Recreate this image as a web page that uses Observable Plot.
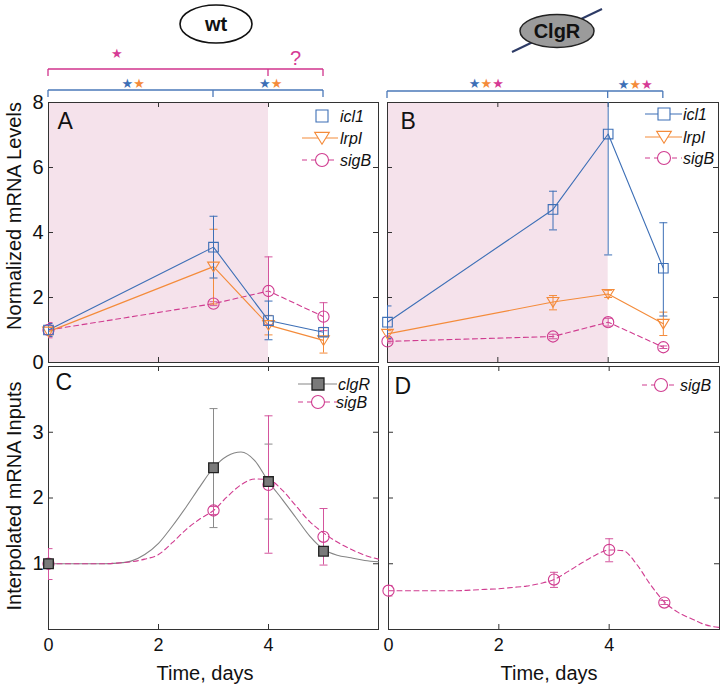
<!DOCTYPE html>
<html><head><meta charset="utf-8">
<script src="https://cdn.jsdelivr.net/npm/d3@7"></script>
<script src="https://cdn.jsdelivr.net/npm/@observablehq/plot@0.6"></script>
<style>
body{margin:0;background:#fff;font-family:"Liberation Sans",Arial,Helvetica,sans-serif;}
#wrap{position:relative;width:720px;height:686px;overflow:hidden;background:#fff;}
</style></head><body><div id="wrap"></div>
<script>
// ---------- data ----------
const days = [0, 3, 4, 5];
const shadeDays = [0, 4];
const xTickDays = [2, 4];
const xLabelDays = [0, 2, 4];
const yTicksTop = [2, 4, 6];
const yLabelsTop = [0, 2, 4, 6, 8];
const yTicksBottom = [1, 2, 3];
const yLabelsBottom = [1, 2, 3];

// Panel A: wild type, measured
const A_icl1 = [1.0, 3.55, 1.29, 0.93];
const A_icl1_lo = [0.8, 2.6, 0.7, 0.8];
const A_icl1_hi = [1.2, 4.5, 1.89, 1.08];
const A_lrpI = [0.95, 2.95, 1.15, 0.68];
const A_lrpI_lo = [0.82, 1.8, 0.85, 0.29];
const A_lrpI_hi = [1.08, 4.1, 1.45, 1.07];
const wt_sigB = [1.0, 1.81, 2.2, 1.41];
const wt_sigB_lo = [0.76, 1.75, 1.16, 0.98];
const wt_sigB_hi = [1.23, 1.87, 3.25, 1.84];

// Panel B: ClgR mutant, measured
const B_icl1 = [1.24, 4.71, 7.03, 2.9];
const B_icl1_lo = [0.74, 4.08, 3.31, 1.43];
const B_icl1_hi = [1.74, 5.27, 10.75, 4.3];
const B_lrpI = [0.88, 1.86, 2.11, 1.19];
const B_lrpI_lo = [0.78, 1.62, 2.0, 0.83];
const B_lrpI_hi = [0.98, 2.06, 2.22, 1.55];
const B_sigB = [0.65, 0.8, 1.24, 0.47];
const B_sigB_lo = [0.6, 0.73, 1.12, 0.43];
const B_sigB_hi = [0.7, 0.87, 1.36, 0.51];

// Panel C: interpolated inputs, wild type
const C_clgR = [1.0, 2.46, 2.25, 1.19];
const C_clgR_lo = [1.0, 1.55, 1.68, 1.14];
const C_clgR_hi = [1.0, 3.36, 2.82, 1.24];

// Panel D: interpolated sigB input, ClgR mutant
const D_sigB = [0.59, 0.76, 1.21, 0.41];
const D_sigB_lo = [0.51, 0.64, 1.03, 0.38];
const D_sigB_hi = [0.67, 0.87, 1.38, 0.44];

// smooth interpolation curves
const fitDays = [0, 0.5, 1, 1.25, 1.5, 1.75, 2, 2.25, 2.5, 2.75, 3, 3.25, 3.5, 3.75, 4, 4.25, 4.5, 4.75, 5, 5.25, 5.5, 5.75, 6];
const C_clgR_fit = [1.0, 1.0, 1.0, 1.01, 1.04, 1.14, 1.31, 1.57, 1.86, 2.17, 2.46, 2.64, 2.70, 2.57, 2.25, 1.98, 1.70, 1.42, 1.22, 1.13, 1.09, 1.05, 1.03];
const C_sigB_fit = [1.0, 1.0, 1.0, 1.01, 1.03, 1.07, 1.14, 1.32, 1.52, 1.68, 1.81, 2.02, 2.2, 2.29, 2.28, 2.12, 1.88, 1.64, 1.47, 1.33, 1.22, 1.13, 1.07];
const D_sigB_fit = [0.59, 0.59, 0.59, 0.59, 0.6, 0.61, 0.62, 0.64, 0.66, 0.7, 0.76, 0.88, 1.01, 1.13, 1.21, 1.2, 0.99, 0.68, 0.42, 0.26, 0.16, 0.07, 0.03];

// ---------- style ----------
const blue = "#3d6fb6", orange = "#f48b3a", magenta = "#d03c90", pinkErr = "#d4559d";
const grayLine = "#858585", grayFill = "#7a7a7a", frameCol = "#333";
const shade = "#f5e2eb";
const FONT = "Liberation Sans, Arial, Helvetica, sans-serif";

const rOf = s => Math.sqrt(s / Math.PI);
const capSym = {draw(c, s) { const r = rOf(s); c.moveTo(-r, 0); c.lineTo(r, 0); }};
const triDown = {draw(c, s) { const r = rOf(s); c.moveTo(-r * 1.05, -r * 0.8); c.lineTo(r * 1.05, -r * 0.8); c.lineTo(0, r * 0.9); c.closePath(); }};
const sqSym = {draw(c, s) { const r = rOf(s); c.moveTo(-r, -r); c.lineTo(r, -r); c.lineTo(r, r); c.lineTo(-r, r); c.closePath(); }};

const idx = d3.range(days.length);
const fidx = d3.range(fitDays.length);

function errorBars(lo, hi, color) {
  return [
    Plot.ruleX(idx, {x: i => days[i], y1: i => lo[i], y2: i => hi[i], stroke: color, strokeWidth: 1, clip: true}),
    Plot.dot(idx, {x: i => days[i], y: i => lo[i], symbol: capSym, r: 4, stroke: color, fill: "none", strokeWidth: 1, clip: true}),
    Plot.dot(idx, {x: i => days[i], y: i => hi[i], symbol: capSym, r: 4, stroke: color, fill: "none", strokeWidth: 1, clip: true})
  ];
}
function markers(vals, symbol, r, stroke, fill = "none", sw = 1.1) {
  if (symbol === "circle")
    return Plot.dot(idx, {x: i => days[i], y: i => vals[i], r, stroke, fill, strokeWidth: sw});
  return Plot.dot(idx, {x: i => days[i], y: i => vals[i], symbol, r, stroke, fill, strokeWidth: sw});
}
function polyline(vals, color, dash) {
  return Plot.line(idx, {x: i => days[i], y: i => vals[i], stroke: color, strokeWidth: 1.1, strokeDasharray: dash});
}
function fitLine(vals, color, dash) {
  return Plot.line(fidx, {x: i => fitDays[i], y: i => vals[i], curve: "monotone-x", stroke: color, strokeWidth: 1.1, strokeDasharray: dash});
}
function frameMarks(plotW, plotH, yTicks) {
  return [
    Plot.tickY(yTicks, {y: d => d, insetRight: plotW - 5, stroke: frameCol}),
    Plot.tickY(yTicks, {y: d => d, insetLeft: plotW - 5, stroke: frameCol}),
    Plot.tickX(xTickDays, {x: d => d, insetBottom: plotH - 5, stroke: frameCol}),
    Plot.tickX(xTickDays, {x: d => d, insetTop: plotH - 5, stroke: frameCol}),
    Plot.frame({stroke: frameCol, strokeWidth: 1})
  ];
}
function letter(t, dx, dy) {
  return Plot.text([t], {text: d => d, frameAnchor: "top-left", dx, dy, lineAnchor: "top", textAnchor: "start", fontSize: 23, fontFamily: FONT, fill: "#111"});
}
function yLabels(vals) {
  return Plot.text(vals, {y: d => d, text: d => String(d), frameAnchor: "left", dx: -5, textAnchor: "end", fontSize: 20, fontFamily: FONT, fill: "#111"});
}
function xLabels() {
  return Plot.text(xLabelDays, {x: d => d, text: d => String(d), frameAnchor: "bottom", dy: 9, lineAnchor: "top", fontSize: 18, fontFamily: FONT, fill: "#111"});
}

function place(svg, left, top) {
  svg.style.position = "absolute";
  svg.style.left = left + "px";
  svg.style.top = top + "px";
  document.getElementById("wrap").appendChild(svg);
  return svg;
}

const dash = "5,3.5";

// ---------- Panel A ----------
const A = Plot.plot({
  width: 380, height: 364, marginLeft: 48, marginRight: 2, marginTop: 102, marginBottom: 2,
  x: {domain: [0, 6], axis: null}, y: {domain: [0, 8], axis: null},
  style: {background: "transparent", overflow: "visible"},
  marks: [
    Plot.rect([shadeDays], {x1: d => d[0], x2: d => d[1], y1: 0, y2: 8, fill: shade}),
    ...frameMarks(330, 260, yTicksTop),
    polyline(wt_sigB, magenta, dash),
    polyline(A_lrpI, orange),
    polyline(A_icl1, blue),
    ...errorBars(wt_sigB_lo, wt_sigB_hi, pinkErr),
    ...errorBars(A_lrpI_lo, A_lrpI_hi, orange),
    ...errorBars(A_icl1_lo, A_icl1_hi, blue),
    markers(wt_sigB, "circle", 5.6, magenta),
    markers(A_lrpI, triDown, 5.6, orange),
    markers(A_icl1, sqSym, 4.8, blue),
    letter("A", 9, 10),
    yLabels(yLabelsTop)
  ]
});
place(A, 0, 0);

// ---------- Panel B ----------
const B = Plot.plot({
  width: 340, height: 364, marginLeft: 7, marginRight: 2, marginTop: 102, marginBottom: 2,
  x: {domain: [0, 6], axis: null}, y: {domain: [0, 8], axis: null},
  style: {background: "transparent", overflow: "visible"},
  marks: [
    Plot.rect([shadeDays], {x1: d => d[0], x2: d => d[1], y1: 0, y2: 8, fill: shade}),
    ...frameMarks(331, 260, yTicksTop),
    polyline(B_sigB, magenta, dash),
    polyline(B_lrpI, orange),
    polyline(B_icl1, blue),
    ...errorBars(B_sigB_lo, B_sigB_hi, pinkErr),
    ...errorBars(B_lrpI_lo, B_lrpI_hi, orange),
    ...errorBars(B_icl1_lo, B_icl1_hi, blue),
    markers(B_sigB, "circle", 5.6, magenta),
    markers(B_lrpI, triDown, 5.6, orange),
    markers(B_icl1, sqSym, 4.8, blue),
    letter("B", 13, 10)
  ]
});
place(B, 380, 0);

// ---------- Panel C ----------
const C = Plot.plot({
  width: 380, height: 322, marginLeft: 48, marginRight: 2, marginTop: 2, marginBottom: 57,
  x: {domain: [0, 6], axis: null}, y: {domain: [0, 4], axis: null},
  style: {background: "transparent", overflow: "visible"},
  marks: [
    ...frameMarks(330, 263, yTicksBottom),
    fitLine(C_clgR_fit, grayLine),
    fitLine(C_sigB_fit, magenta, dash),
    ...errorBars(C_clgR_lo, C_clgR_hi, "#8a8a8a"),
    ...errorBars(wt_sigB_lo, wt_sigB_hi, pinkErr),
    markers(wt_sigB, "circle", 5.6, magenta),
    markers(C_clgR, sqSym, 4.8, "#222", grayFill, 1.3),
    letter("C", 7, 7),
    yLabels(yLabelsBottom),
    xLabels()
  ]
});
place(C, 0, 364);

// ---------- Panel D ----------
const D = Plot.plot({
  width: 340, height: 322, marginLeft: 8, marginRight: 1, marginTop: 2, marginBottom: 57,
  x: {domain: [0, 6], axis: null}, y: {domain: [0, 4], axis: null},
  style: {background: "transparent", overflow: "visible"},
  marks: [
    ...frameMarks(331, 263, yTicksBottom),
    fitLine(D_sigB_fit, magenta, dash),
    ...errorBars(D_sigB_lo, D_sigB_hi, pinkErr),
    markers(D_sigB, "circle", 5.6, magenta),
    letter("D", 6, 11),
    xLabels()
  ]
});
place(D, 380, 364);

// ---------- overlay: titles, legends, brackets ----------
const ov = d3.select("#wrap").append("svg")
  .attr("width", 720).attr("height", 686)
  .style("position", "absolute").style("left", "0px").style("top", "0px")
  .style("pointer-events", "none").style("overflow", "visible")
  .attr("font-family", FONT);

function scaleOf(plot, offset) {
  const s = plot.scale("x");
  return d3.scaleLinear(s.domain, s.range.map(v => v + offset));
}
const xA = scaleOf(A, 0), xB = scaleOf(B, 380);

// axis titles
ov.append("text").attr("transform", "translate(14,216) rotate(-90)")
  .attr("text-anchor", "middle").attr("dominant-baseline", "central")
  .attr("font-size", 20).attr("fill", "#111").text("Normalized mRNA Levels");
ov.append("text").attr("transform", "translate(14,496) rotate(-90)")
  .attr("text-anchor", "middle").attr("dominant-baseline", "central")
  .attr("font-size", 20).attr("fill", "#111").text("Interpolated mRNA Inputs");
[205, 549].forEach(x => {
  ov.append("text").attr("x", x).attr("y", 673).attr("text-anchor", "middle")
    .attr("dominant-baseline", "central").attr("font-size", 20).attr("fill", "#111").text("Time, days");
});

// legends
const symPath = (type, r) => d3.symbol(type, Math.PI * r * r)();
function legendItem(x0, x1, xm, y, xt, name, opt) {
  const g = ov.append("g");
  if (opt.line) g.append("line").attr("x1", x0).attr("x2", x1).attr("y1", y).attr("y2", y)
    .attr("stroke", opt.lineColor || opt.color).attr("stroke-width", 1.1).attr("stroke-dasharray", opt.dash || null);
  if (opt.sym === "circle") g.append("circle").attr("cx", xm).attr("cy", y).attr("r", 6.5)
    .attr("fill", "white").attr("stroke", opt.color).attr("stroke-width", 1.1);
  else g.append("path").attr("d", symPath(opt.sym, opt.r || 5.6)).attr("transform", `translate(${xm},${y})`)
    .attr("fill", opt.fill || "white").attr("stroke", opt.color).attr("stroke-width", opt.sw || 1.1);
  g.append("text").attr("x", xt).attr("y", y).attr("dominant-baseline", "central")
    .attr("font-size", 16).attr("font-style", "italic").attr("fill", "#111").text(name);
}
// panel A legend
legendItem(302, 338, 322, 116, 340, "icl1", {sym: sqSym, r: 6, color: blue, line: false});
legendItem(302, 338, 322, 138, 340, "lrpI", {sym: triDown, r: 7, color: orange, line: true});
legendItem(302, 338, 322, 160, 340, "sigB", {sym: "circle", color: magenta, line: true, dash: "5,4"});
// panel B legend
legendItem(645, 682, 664, 114, 683, "icl1", {sym: sqSym, r: 6, color: blue, line: true});
legendItem(645, 682, 664, 137, 683, "lrpI", {sym: triDown, r: 7, color: orange, line: true});
legendItem(645, 682, 664, 158, 683, "sigB", {sym: "circle", color: magenta, line: true, dash: "5,4"});
// panel C legend
legendItem(298, 337, 318, 384, 338, "clgR", {sym: sqSym, r: 6, color: "#222", fill: grayFill, lineColor: grayLine, line: true, sw: 1.3});
legendItem(298, 337, 318, 402, 336, "sigB", {sym: "circle", color: magenta, line: true, dash: "5,4"});
// panel D legend
legendItem(642, 678, 661, 385, 680, "sigB", {sym: "circle", color: magenta, line: true, dash: "5,4"});

// significance brackets
function bracket(xs, ticks, y, color) {
  const g = ov.append("g").attr("stroke", color).attr("stroke-width", 1.3).attr("fill", "none");
  g.append("line").attr("x1", xs(ticks[0])).attr("x2", xs(ticks[ticks.length - 1])).attr("y1", y).attr("y2", y);
  ticks.forEach(t => g.append("line").attr("x1", xs(t)).attr("x2", xs(t)).attr("y1", y).attr("y2", y + 7));
}
bracket(xA, [0, 4, 5], 69, "#d0338c");
bracket(xA, [0, 3, 5], 90, "#4a78b8");
bracket(xB, [0, 4, 5], 91, "#4a78b8");

function stars(x, y, colors) {
  const t = ov.append("text").attr("x", x).attr("y", y).attr("text-anchor", "middle")
    .attr("dominant-baseline", "central").attr("font-size", 13).attr("font-family", "DejaVu Sans, sans-serif");
  colors.forEach(c => t.append("tspan").attr("fill", c).text("\u2605"));
}
const sBlue = "#3d6fb6", sOrange = "#f48b3a", sMag = "#d63a95";
stars(xA(1.25), 53, [sMag]);
ov.append("text").attr("x", xA(4.5)).attr("y", 58).attr("text-anchor", "middle").attr("dominant-baseline", "central")
  .attr("font-size", 20).attr("fill", sMag).text("?");
stars(xA(1.55), 83, [sBlue, sOrange]);
stars(xA(4.05), 83, [sBlue, sOrange]);
stars(xB(1.8), 83, [sBlue, sOrange, sMag]);
stars(xB(4.5), 84, [sBlue, sOrange, sMag]);

// strain ellipses
const wt = ov.append("g");
wt.append("ellipse").attr("cx", 216).attr("cy", 24).attr("rx", 36).attr("ry", 19)
  .attr("fill", "white").attr("stroke", "#111").attr("stroke-width", 1.6);
wt.append("text").attr("x", 216).attr("y", 24).attr("text-anchor", "middle").attr("dominant-baseline", "central")
  .attr("font-size", 20).attr("font-weight", "bold").attr("fill", "#111").text("wt");
const mut = ov.append("g");
mut.append("line").attr("x1", 512).attr("y1", 52).attr("x2", 602).attr("y2", 9)
  .attr("stroke", "#2d3b66").attr("stroke-width", 2);
mut.append("ellipse").attr("cx", 557).attr("cy", 31).attr("rx", 37).attr("ry", 16.5)
  .attr("fill", "#9b9b9b").attr("stroke", "#222").attr("stroke-width", 1.5);
mut.append("text").attr("x", 557).attr("y", 31).attr("text-anchor", "middle").attr("dominant-baseline", "central")
  .attr("font-size", 20).attr("font-weight", "bold").attr("fill", "#111").text("ClgR");
</script></body></html>
